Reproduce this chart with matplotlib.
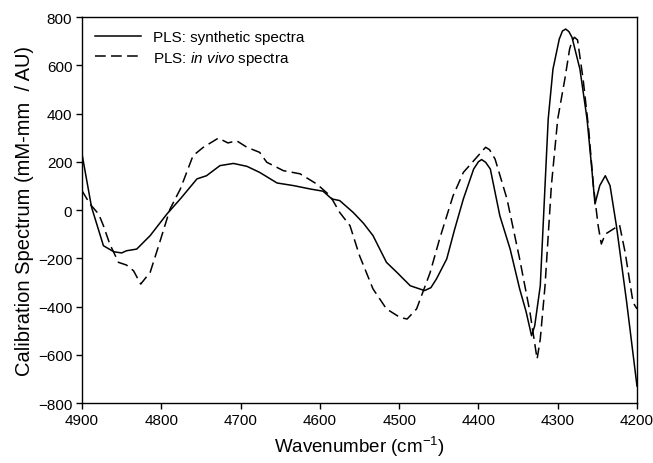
import matplotlib
matplotlib.use("Agg")
import matplotlib.pyplot as plt

plt.rcParams['font.family'] = ['Liberation Sans', 'DejaVu Sans']
plt.rcParams['mathtext.fontset'] = 'custom'
plt.rcParams['mathtext.rm'] = 'Liberation Sans'
plt.rcParams['mathtext.it'] = 'Liberation Sans:italic'

# PLS calibration spectrum from synthetic spectra
synthWave = [4900, 4888, 4873, 4860, 4850, 4844, 4831, 4814, 4793, 4776,
             4755, 4743, 4726, 4709, 4692, 4676, 4654, 4633, 4612, 4596,
             4585, 4575, 4558, 4545, 4533, 4516, 4503, 4486, 4468, 4460,
             4453, 4440, 4430, 4419, 4406, 4400, 4396, 4391, 4385, 4373,
             4360, 4348, 4340, 4333, 4329, 4322, 4316, 4312, 4306, 4298,
             4294, 4290, 4286, 4282, 4272, 4263, 4257, 4253, 4247, 4240,
             4234, 4226, 4213, 4200]
synthVal = [232, 12, -148, -173, -178, -169, -162, -106, -17, 46,
            129, 142, 184, 193, 181, 156, 112, 101, 87, 78,
            46, 39, -10, -55, -106, -217, -258, -314, -334, -322,
            -286, -203, -80, 46, 170, 200, 209, 198, 170, -24,
            -162, -327, -420, -521, -480, -314, 101, 377, 584, 709,
            742, 750, 740, 716, 584, 377, 170, 25, 101, 142,
            101, -65, -383, -730]

# PLS calibration spectrum from in vivo spectra
vivoWave = [4900, 4890, 4879, 4873, 4865, 4854, 4844, 4835, 4826, 4814,
            4802, 4789, 4776, 4760, 4747, 4728, 4716, 4705, 4692, 4676,
            4667, 4646, 4625, 4604, 4587, 4575, 4562, 4550, 4533, 4516,
            4499, 4490, 4478, 4461, 4449, 4432, 4419, 4406, 4395, 4391,
            4386, 4379, 4364, 4348, 4335, 4326, 4322, 4316, 4308, 4300,
            4291, 4285, 4282, 4279, 4275, 4268, 4261, 4255, 4249, 4245,
            4240, 4228, 4222, 4215, 4205, 4200]
vivoVal = [80, 25, -17, -65, -141, -217, -228, -252, -307, -258,
           -134, 4, 87, 225, 260, 298, 278, 287, 260, 239,
           198, 163, 150, 108, 59, -10, -65, -189, -327, -410,
           -445, -452, -410, -260, -120, 59, 156, 204, 245, 260,
           250, 211, 46, -203, -424, -618, -535, -314, 101, 377,
           543, 667, 700, 716, 705, 543, 336, 101, -65, -141,
           -100, -75, -62, -175, -383, -410]

xTicks = [4900, 4800, 4700, 4600, 4500, 4400, 4300, 4200]
yTicks = [-800, -600, -400, -200, 0, 200, 400, 600, 800]

fig = plt.figure(figsize=(6.53, 4.64), dpi=100)
ax = fig.add_axes([0.1256, 0.1293, 0.8499, 0.8319])

ax.plot(synthWave, synthVal, color='black', lw=1.1, label="PLS: synthetic spectra")
ax.plot(vivoWave, vivoVal, color='black', lw=1.1, linestyle=(0, (7, 3.5)),
        label="PLS: $\\it{in\\ vivo}$ spectra")

ax.set_xlim(4900, 4200)
ax.set_ylim(-800, 800)
ax.set_xticks(xTicks)
ax.set_yticks(yTicks)
ax.tick_params(direction='out', length=4, width=1, labelsize=11, pad=3,
               top=False, right=False)
for s in ax.spines.values():
    s.set_linewidth(1.0)

ax.set_xlabel("Wavenumber (cm$^{-1}$)", fontsize=13.5, labelpad=5)
ax.set_ylabel("Calibration Spectrum (mM-mm  / AU)", fontsize=14.5, labelpad=3)

ax.legend(loc='upper left', frameon=False, fontsize=11, handlelength=3.0,
          handletextpad=0.8, borderaxespad=0.45, labelspacing=0.3)

fig.savefig("out.png", dpi=100)
